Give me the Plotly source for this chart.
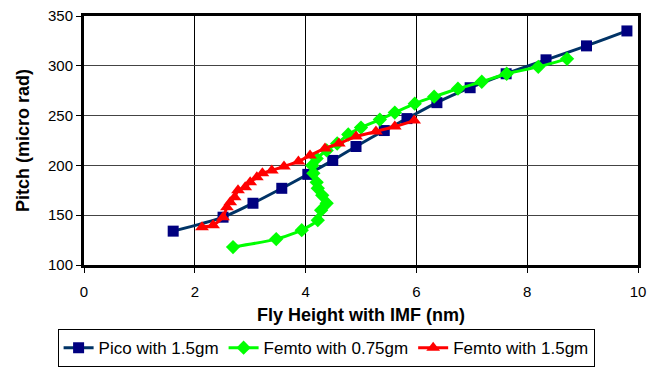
import plotly.graph_objects as go

pico_x = [1.61, 2.51, 3.05, 3.57, 4.04, 4.49, 4.91, 5.42, 5.83, 6.37, 6.97, 7.62, 8.34, 9.07, 9.80]
pico_y = [134, 148, 162, 177, 191, 205, 219, 235, 247, 263, 278, 292, 306, 320, 335]

f075_x = [2.69, 3.47, 3.93, 4.22, 4.28, 4.38, 4.30, 4.22, 4.20, 4.14, 4.12, 4.20, 4.38, 4.57,
          4.77, 5.00, 5.34, 5.61, 5.97, 6.32, 6.75, 7.18, 7.63, 8.20, 8.72]
f075_y = [118, 126, 135, 145, 155, 162, 170, 177, 183, 192, 200, 207, 215, 222,
          231, 238, 246, 253, 262, 269, 277, 284, 292, 299, 307]

f15_x = [2.13, 2.33, 2.51, 2.58, 2.64, 2.72, 2.78, 2.91, 3.00, 3.12, 3.22, 3.39, 3.61,
         3.87, 4.08, 4.35, 4.60, 4.91, 5.27, 5.61, 5.96]
f15_y = [138, 140, 148, 158, 163, 168, 175, 178, 183, 188, 192, 195, 199,
         204, 210, 217, 222, 229, 234, 239, 245]

x_ticks = [0, 2, 4, 6, 8, 10]
y_ticks = [100, 150, 200, 250, 300, 350]

fig = go.Figure()
fig.add_trace(go.Scatter(
    x=pico_x, y=pico_y, name="Pico with 1.5gm", mode="lines+markers",
    line=dict(color="#003366", width=3, shape="spline", smoothing=0.8),
    marker=dict(symbol="square", size=11, color="#000080"),
))
fig.add_trace(go.Scatter(
    x=f075_x, y=f075_y, name="Femto with 0.75gm", mode="lines+markers",
    line=dict(color="#00FF00", width=3, shape="spline", smoothing=0.6),
    marker=dict(symbol="diamond", size=11, color="#00FF00"),
))
fig.add_trace(go.Scatter(
    x=f15_x, y=f15_y, name="Femto with 1.5gm", mode="lines+markers",
    line=dict(color="#FF0000", width=3, shape="spline", smoothing=0.6),
    marker=dict(symbol="triangle-up", size=12, color="#FF0000"),
))

font = "Liberation Sans, Arial, sans-serif"
fig.update_layout(
    width=650, height=369,
    margin=dict(l=84, r=12, t=16, b=104, autoexpand=False),
    paper_bgcolor="white", plot_bgcolor="white",
    font=dict(family=font, size=15, color="black"),
    showlegend=True,
    legend=dict(
        orientation="h", x=0.437, xanchor="center", y=-0.41, yanchor="bottom",
        bordercolor="black", borderwidth=1, font=dict(size=17),
        itemwidth=30, tracegroupgap=0,
    ),
)
fig.update_xaxes(
    range=[0, 10], tickvals=x_ticks, ticktext=[str(v) for v in x_ticks],
    showgrid=True, gridcolor="black", gridwidth=1,
    showline=True, linecolor="black", linewidth=3, mirror=True,
    ticks="outside", ticklen=5, tickcolor="black", zeroline=False,
    automargin=False, ticklabelstandoff=6,
    title=dict(text="<b>Fly Height with IMF (nm)</b>", font=dict(size=18), standoff=10),
    tickfont=dict(size=15),
)
fig.update_yaxes(
    range=[100, 350], tickvals=y_ticks, ticktext=[str(v) for v in y_ticks],
    showgrid=True, gridcolor="#444444", gridwidth=1,
    showline=True, linecolor="black", linewidth=3, mirror=True,
    ticks="outside", ticklen=5, tickcolor="black", zeroline=False,
    automargin=False,
    title=dict(text="<b>Pitch (micro rad)</b>", font=dict(size=18), standoff=14),
    tickfont=dict(size=15),
)

fig.write_html("out.html")
